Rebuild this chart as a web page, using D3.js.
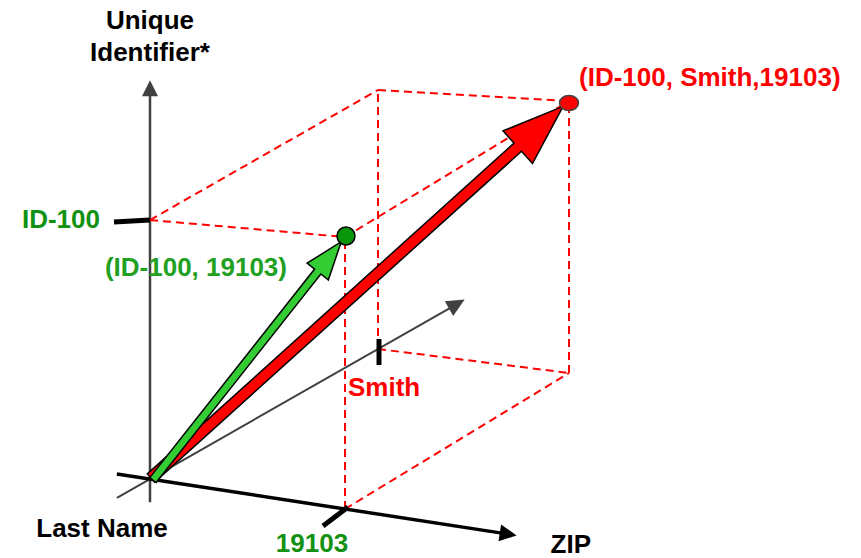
<!DOCTYPE html>
<html>
<head>
<meta charset="utf-8">
<script src="https://cdn.jsdelivr.net/npm/d3@7"></script>
<style>
  body { margin: 0; background: #fff; }
  text { font-family: "Liberation Sans", Arial, sans-serif; font-weight: bold; font-size: 26px; }
</style>
</head>
<body>
<div id="chart"></div>
<script>
// axes of the 3d space: [zip, last name, unique id]
const axisNames = ["ZIP", "Last Name", "Unique Identifier*"];
const tickLabels = ["19103", "Smith", "ID-100"];
// axis extents, in "tick units" (1 = the labelled tick)
const axisStart = [-0.17, -0.145, -0.09];
const axisEnd = [1.88, 1.38, 1.54];
// the two record vectors (zip, last name, id)
const greenPoint = [1, 0, 1];
const redPoint = [1, 1, 1];
const greenLabel = "(ID-100, 19103)";
const redLabel = "(ID-100, Smith,19103)";

const width = 861, height = 558;
const red = "#ff0000", green = "#139113", axisGray = "#404040";

var svg = d3.select("#chart").append("svg")
    .attr("width", width)
    .attr("height", height);

// projection of the 3d box onto the page (oblique view, slight perspective)
const origin = [150, 479];
const zipX = d3.scaleLinear().domain([0, 1]).range([0, 195]);
const zipY = d3.scaleLinear().domain([0, 1]).range([0, 30]);
const lnX = d3.scaleLinear().domain([0, 1]).range([0, 228]);
const lnY = d3.scaleLinear().domain([0, 1]).range([0, -130]);
const idY = d3.scaleLinear().domain([0, 1]).range([0, -259]);

function project(p) {
    const [z, l, u] = p;
    return [
        origin[0] + zipX(z) + lnX(l) - 4 * z * l,
        origin[1] + zipY(z) + lnY(l) + idY(u) - 13 * z * u - 6 * z * l
    ];
}

function unitPoint(axis, t) {
    const p = [0, 0, 0];
    p[axis] = t;
    return p;
}

// arrow polygon from a to b
function arrowPoints(a, b, sw, hl, hw) {
    const dx = b[0] - a[0], dy = b[1] - a[1];
    const len = Math.hypot(dx, dy);
    const ux = dx / len, uy = dy / len, nx = -uy, ny = ux;
    const bx = b[0] - ux * hl, by = b[1] - uy * hl;
    return [
        [a[0] + nx * sw / 2, a[1] + ny * sw / 2],
        [bx + nx * sw / 2, by + ny * sw / 2],
        [bx + nx * hw / 2, by + ny * hw / 2],
        b,
        [bx - nx * hw / 2, by - ny * hw / 2],
        [bx - nx * sw / 2, by - ny * sw / 2],
        [a[0] - nx * sw / 2, a[1] - ny * sw / 2]
    ];
}

function shorten(a, b, fromStart, fromEnd) {
    const dx = b[0] - a[0], dy = b[1] - a[1];
    const len = Math.hypot(dx, dy);
    const ux = dx / len, uy = dy / len;
    return [[a[0] + ux * fromStart, a[1] + uy * fromStart], [b[0] - ux * fromEnd, b[1] - uy * fromEnd]];
}

const line = d3.line();

// axes: last name (thin), unique id (vertical), zip (thick)
const axisStyle = [
    { w: 3.5, color: "#000", head: [17, 17] },
    { w: 2, color: axisGray, head: [18, 17] },
    { w: 2.5, color: axisGray, head: [16, 16] }
];
[1, 2, 0].forEach(function (i) {
    const a = project(unitPoint(i, axisStart[i]));
    const b = project(unitPoint(i, axisEnd[i]));
    const st = axisStyle[i];
    const e = shorten(a, b, 0, st.head[0] - 2);
    svg.append("path")
        .attr("d", line([a, e[1]]))
        .attr("stroke", st.color)
        .attr("stroke-width", st.w)
        .attr("fill", "none");
    const pts = arrowPoints(a, b, 0, st.head[0], st.head[1]);
    svg.append("path")
        .attr("d", line([pts[2], pts[3], pts[4]]) + "Z")
        .attr("fill", st.color);
});

// dashed box edges between corners of the unit box (corners that are not on an axis)
const corners = [];
for (let z = 0; z <= 1; z++) for (let l = 0; l <= 1; l++) for (let u = 0; u <= 1; u++) corners.push([z, l, u]);
const edges = [];
corners.forEach(function (c) {
    [0, 1, 2].forEach(function (k) {
        if (c[k] === 0) {
            const d = c.slice(); d[k] = 1;
            const onAxis = c[0] + c[1] + c[2] === 0;
            if (!onAxis) edges.push([c, d]);
        }
    });
});
svg.selectAll(".edge")
    .data(edges)
    .enter()
    .append("path")
    .attr("class", "edge")
    .attr("d", (d) => line(d.map(project)))
    .attr("stroke", red)
    .attr("stroke-width", 2)
    .attr("stroke-dasharray", "8,5")
    .attr("fill", "none");

// ticks
const tIdA = project(unitPoint(2, 1));
svg.append("path")
    .attr("d", line([[tIdA[0] - 36, tIdA[1] + 2], [tIdA[0], tIdA[1]]]))
    .attr("stroke", "#000").attr("stroke-width", 5);
const tLn = project(unitPoint(1, 1));
svg.append("path")
    .attr("d", line([[tLn[0] + 1, tLn[1] - 10], [tLn[0] + 1, tLn[1] + 16]]))
    .attr("stroke", "#000").attr("stroke-width", 5);
const tZip = project(unitPoint(0, 1));
svg.append("path")
    .attr("d", line([[tZip[0] + 3, tZip[1] - 2], [tZip[0] - 22, tZip[1] + 17]]))
    .attr("stroke", "#000").attr("stroke-width", 5);

// record vectors
const o = project([0, 0, 0]);
const pRed = project(redPoint);
const pGreen = project(greenPoint);

const redArrow = shorten([o[0] + 1, o[1] - 1], pRed, 0, 8);
svg.append("path")
    .attr("d", line(arrowPoints(redArrow[0], redArrow[1], 11, 61, 44)) + "Z")
    .attr("fill", red)
    .attr("stroke", "#000")
    .attr("stroke-width", 1.5);

const greenArrow = shorten([o[0] + 3, o[1] + 1], pGreen, 0, 6);
svg.append("path")
    .attr("d", line(arrowPoints(greenArrow[0], greenArrow[1], 8, 38, 27)) + "Z")
    .attr("fill", "#33cc33")
    .attr("stroke", "#000")
    .attr("stroke-width", 1.5);

svg.append("circle")
    .attr("cx", pGreen[0] + 1).attr("cy", pGreen[1] - 1).attr("r", 9)
    .attr("fill", "#0a960a").attr("stroke", "#000").attr("stroke-width", 1.5);
svg.append("ellipse")
    .attr("cx", pRed[0]).attr("cy", pRed[1] + 2).attr("rx", 9.5).attr("ry", 7.5)
    .attr("fill", red).attr("stroke", "#444").attr("stroke-width", 1.5);

// labels
function label(txt, x, y, color, anchor) {
    svg.append("text")
        .attr("x", x).attr("y", y)
        .attr("fill", color)
        .attr("text-anchor", anchor)
        .text(txt);
}
const idTop = project(unitPoint(2, axisEnd[2]));
const idWords = axisNames[2].split(" ");
label(idWords[0], idTop[0], 29, "#000", "middle");
label(idWords[1], idTop[0], 61, "#000", "middle");
label(axisNames[1], 102, 537, "#000", "middle");
const zipEnd = project(unitPoint(0, axisEnd[0]));
label(axisNames[0], zipEnd[0] + 34, 553, "#000", "start");

label(tickLabels[2], tIdA[0] - 50, tIdA[1] + 8, green, "end");
label(tickLabels[1], tLn[0] - 30, tLn[1] + 47, red, "start");
label(tickLabels[0], tZip[0] - 33, 552, green, "middle");

label(greenLabel, pGreen[0] - 58, pGreen[1] + 39, "#22a022", "end");
label(redLabel, pRed[0] + 10, pRed[1] - 15, red, "start");
</script>
</body>
</html>
